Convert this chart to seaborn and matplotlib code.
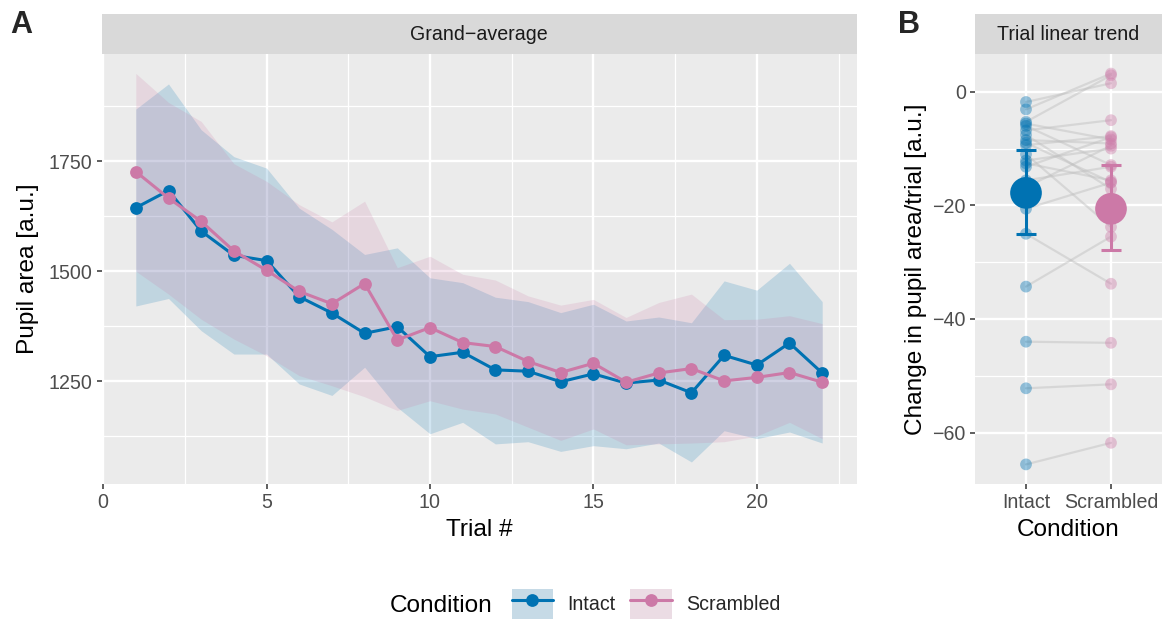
import numpy as np
import pandas as pd
import matplotlib
matplotlib.use("Agg")
import matplotlib.pyplot as plt
import seaborn as sns
from matplotlib.patches import Patch
from matplotlib.lines import Line2D
from matplotlib.ticker import MultipleLocator, FixedLocator

# ---------------- data ----------------
conditions = ["Intact", "Scrambled"]
trials = list(range(1, 23))

intact_mean = [1644, 1683, 1591, 1536, 1524, 1442, 1405, 1359, 1374, 1306, 1316,
               1276, 1273, 1249, 1267, 1246, 1253, 1224, 1309, 1287, 1337, 1269]
scrambled_mean = [1726, 1666, 1613, 1546, 1502, 1454, 1426, 1472, 1344, 1372, 1338,
                  1329, 1295, 1270, 1291, 1248, 1269, 1279, 1251, 1259, 1270, 1248]
intact_upper = [1868, 1925, 1821, 1760, 1734, 1643, 1595, 1538, 1553, 1485, 1474,
                1441, 1431, 1406, 1425, 1387, 1396, 1383, 1478, 1457, 1518, 1431]
intact_lower = [1421, 1438, 1365, 1312, 1312, 1244, 1218, 1282, 1191, 1131, 1157,
                1108, 1113, 1091, 1104, 1097, 1110, 1067, 1138, 1120, 1135, 1110]
scrambled_upper = [1949, 1883, 1840, 1744, 1704, 1651, 1612, 1659, 1508, 1534, 1493,
                   1480, 1444, 1423, 1436, 1395, 1429, 1448, 1390, 1391, 1399, 1381]
scrambled_lower = [1500, 1448, 1391, 1346, 1308, 1263, 1240, 1215, 1184, 1206, 1187,
                   1176, 1146, 1116, 1142, 1106, 1108, 1110, 1113, 1126, 1157, 1120]

intact_slope = [-1.8, -3.1, -5.3, -5.6, -6.0, -6.8, -7.6, -8.5, -9.0, -9.4, -11.0,
                -12.1, -12.6, -13.2, -15.6, -16.8, -20.6, -25.0, -34.3, -44.0, -52.2, -65.6]
scrambled_slope = [1.5, 3.2, 2.9, -8.4, -12.9, -5.0, -17.1, -9.1, -15.9, -7.8, -23.8,
                   -10.0, -15.6, -8.0, -13.2, -9.5, -16.0, -33.8, -25.5, -44.2, -51.5, -61.8]

slope_mean = [-17.8, -20.6]
slope_ci_low = [-25.1, -27.9]
slope_ci_high = [-10.3, -12.9]

colors = {"Intact": "#0072B2", "Scrambled": "#CC79A7"}

# ---------------- style ----------------
sns.set_theme(style="darkgrid", rc={"axes.facecolor": "#EBEBEB", "grid.color": "white",
                                    "figure.facecolor": "white"})
plt.rcParams["font.family"] = ["Liberation Sans", "DejaVu Sans"]

W, H = 1162, 621
fig = plt.figure(figsize=(W / 100, H / 100), dpi=100)

def fx(px):
    return px / W

def fy(py):
    return 1 - py / H

BASE = 17.6
SMALL = 14.1

axA = fig.add_axes([fx(101.5), fy(484), fx(856.5) - fx(101.5), fy(54) - fy(484)])
axB = fig.add_axes([fx(975), fy(484), fx(1162) - fx(975), fy(54) - fy(484)])

# ---------------- panel A ----------------
df_a = pd.DataFrame({
    "trial": trials * 2,
    "pupil": intact_mean + scrambled_mean,
    "condition": ["Intact"] * len(trials) + ["Scrambled"] * len(trials),
})
ribbons = {"Intact": (intact_lower, intact_upper), "Scrambled": (scrambled_lower, scrambled_upper)}
for cond in conditions:
    lo, hi = ribbons[cond]
    axA.fill_between(trials, lo, hi, color=colors[cond], alpha=0.18, linewidth=0, zorder=2)

for cond in conditions:
    sns.lineplot(data=df_a[df_a.condition == cond], x="trial", y="pupil", color=colors[cond],
                 marker="o", markersize=9.2, markeredgewidth=0, linewidth=2.2,
                 legend=False, ax=axA, zorder=3)

axA.set_xlim(-0.05, 23.05)
axA.set_ylim(1017, 1993)
axA.xaxis.set_major_locator(FixedLocator([0, 5, 10, 15, 20]))
axA.xaxis.set_minor_locator(FixedLocator([2.5, 7.5, 12.5, 17.5, 22.5]))
axA.yaxis.set_major_locator(FixedLocator([1250, 1500, 1750]))
axA.yaxis.set_minor_locator(FixedLocator([1125, 1375, 1625, 1875]))
axA.set_xlabel("Trial #", fontsize=BASE, color="black", labelpad=5)
axA.set_ylabel("Pupil area [a.u.]", fontsize=BASE, color="black", labelpad=7)

# ---------------- panel B ----------------
n = len(intact_slope)
df_b = pd.DataFrame({
    "subject": list(range(n)) * 2,
    "condition": ["Intact"] * n + ["Scrambled"] * n,
    "slope": intact_slope + scrambled_slope,
})
df_b["pos"] = df_b["condition"].map({c: i + 1 for i, c in enumerate(conditions)})

sns.lineplot(data=df_b, x="pos", y="slope", units="subject", estimator=None,
             color="#BEBEBE", alpha=0.45, linewidth=1.6, legend=False, ax=axB, zorder=2)
sns.scatterplot(data=df_b, x="pos", y="slope", hue="condition", palette=colors,
                alpha=0.4, s=72, edgecolor="none", linewidth=0, legend=False, ax=axB, zorder=3)

summ = pd.DataFrame({"condition": conditions, "mean": slope_mean,
                     "lo": slope_ci_low, "hi": slope_ci_high})
summ["pos"] = summ["condition"].map({c: i + 1 for i, c in enumerate(conditions)})
for _, r in summ.iterrows():
    c = colors[r["condition"]]
    axB.errorbar([r["pos"]], [r["mean"]],
                 yerr=[[r["mean"] - r["lo"]], [r["hi"] - r["mean"]]],
                 fmt="none", ecolor=c, elinewidth=2.2, capsize=7.4, capthick=2.2, zorder=4)
sns.scatterplot(data=summ, x="pos", y="mean", hue="condition", palette=colors,
                s=520, edgecolor="none", linewidth=0, legend=False, ax=axB, zorder=5)

axB.set_xlim(0.4, 2.6)
axB.set_ylim(-69.05, 6.65)
axB.xaxis.set_major_locator(FixedLocator([1, 2]))
axB.set_xticklabels(conditions)
axB.xaxis.set_minor_locator(FixedLocator([]))
axB.yaxis.set_major_locator(FixedLocator([0, -20, -40, -60]))
axB.yaxis.set_minor_locator(FixedLocator([-10, -30, -50]))
axB.set_xlabel("Condition", fontsize=BASE, color="black", labelpad=5)
axB.set_ylabel("Change in pupil area/trial [a.u.]", fontsize=BASE, color="black", labelpad=4)

for ax in (axA, axB):
    ax.set_facecolor("#EBEBEB")
    for s in ax.spines.values():
        s.set_visible(False)
    ax.grid(which="major", color="white", linewidth=1.7)
    ax.grid(which="minor", color="white", linewidth=0.9)
    ax.tick_params(which="major", length=3.6, width=1.1, color="#333333",
                   labelcolor="#4D4D4D", labelsize=SMALL, pad=3, bottom=True, left=True)
    ax.tick_params(which="minor", length=0)
    ax.set_axisbelow(True)

# ---------------- strips ----------------
def strip(x0, x1, text):
    s = fig.add_axes([fx(x0), fy(54), fx(x1) - fx(x0), fy(14) - fy(54)])
    s.set_facecolor("#D9D9D9")
    s.set_xticks([])
    s.set_yticks([])
    s.grid(False)
    for sp in s.spines.values():
        sp.set_visible(False)
    s.text(0.5, 0.5, text, ha="center", va="center", fontsize=SMALL, color="#1A1A1A",
           transform=s.transAxes)

strip(101.5, 856.5, "Grand\u2212average")
strip(975, 1162, "Trial linear trend")

# ---------------- panel labels ----------------
fig.text(fx(10), fy(25), "A", fontsize=22, fontweight="bold", ha="left", va="center")
fig.text(fx(898), fy(25), "B", fontsize=22, fontweight="bold", ha="left", va="center")

# ---------------- legend ----------------
handles = []
for cond in conditions:
    handles.append((Patch(facecolor="#F2F2F2", edgecolor="none"),
                    Patch(facecolor=colors[cond], alpha=0.18, edgecolor="none"),
                    Line2D([], [], color=colors[cond], linewidth=2.2, marker="o",
                           markersize=9.2, markeredgewidth=0)))
fig.text(fx(390), fy(606), "Condition", fontsize=BASE, ha="left", va="center", color="black")
fig.legend(handles, conditions, loc="center left", bbox_to_anchor=(fx(511.7), fy(604)),
           ncol=2, frameon=False, fontsize=SMALL, handlelength=2.1, handleheight=2.0,
           handletextpad=0.75, columnspacing=0.75, borderpad=0, borderaxespad=0,
           numpoints=1)

fig.savefig("out.png", dpi=100)
